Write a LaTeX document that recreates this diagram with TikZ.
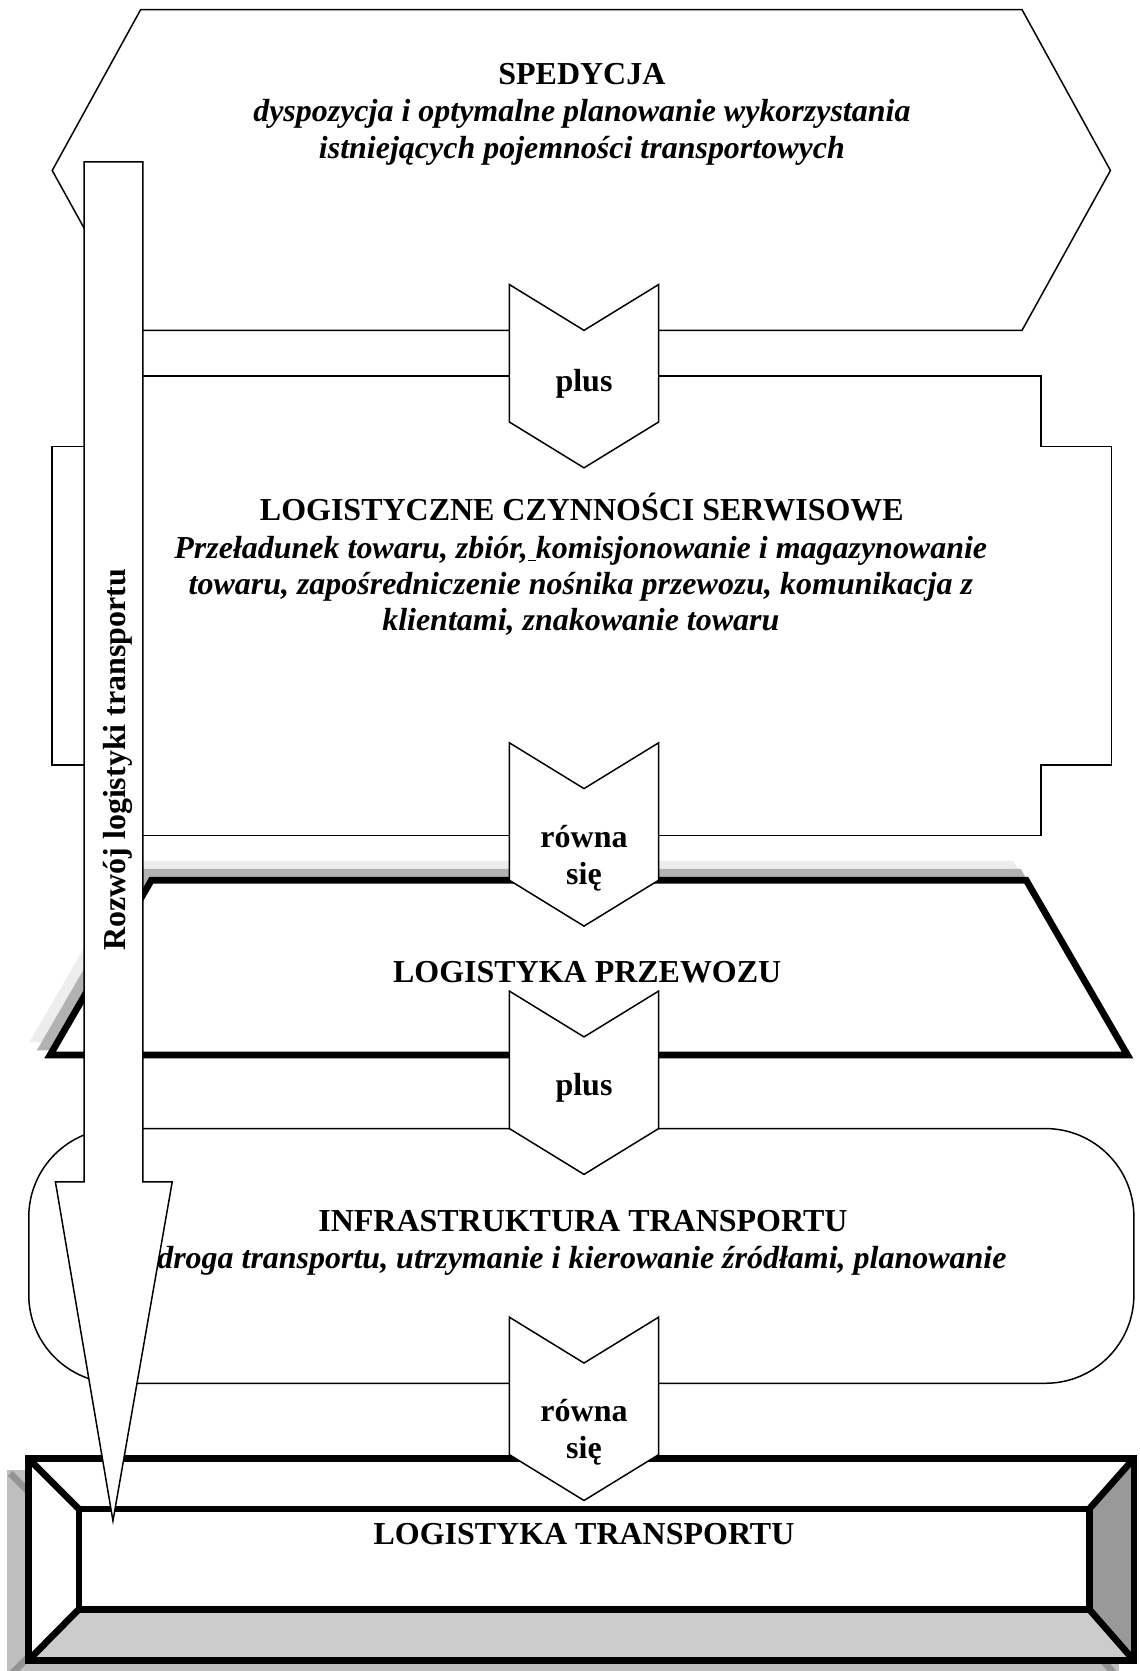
\documentclass[tikz,border=0pt]{standalone}
\usepackage{fontspec}
\setmainfont{Liberation Serif}
\begin{document}
\begin{tikzpicture}[x=1pt,y=-1pt,
  thinline/.style={line width=1.4pt, draw=black, fill=white, line join=miter},
  thickline/.style={line width=6.3pt, draw=black, line join=miter},
  txt/.style={font=\fontsize{30}{35}\selectfont\bfseries, anchor=base, inner sep=0pt},
  itxt/.style={font=\fontsize{30}{35}\selectfont\bfseries\itshape, anchor=base, inner sep=0pt}]
\useasboundingbox (0,0) rectangle (1069,1568);
\fill[white] (0,0) rectangle (1069,1568);

% SPEDYCJA hexagon
\draw[thinline] (132,9) -- (959,9) -- (1042,160) -- (959,310) -- (132,310) -- (49,160) -- cycle;

% services cross shape
\draw[thinline] (128,353) -- (977,353) -- (977,419) -- (1043,419) -- (1043,718) -- (977,718)
  -- (977,784) -- (128,784) -- (128,718) -- (49,718) -- (49,419) -- (128,419) -- cycle;

% trapezoid shadows and trapezoid
\foreach \dx/\dy/\c in {-14/-15/black!7, -7/-7.5/black!30}{
  \draw[line width=6.3pt, draw=\c, fill=\c, shift={(\dx,\dy)}]
    (142,826) -- (963,826) -- (1058,990) -- (47,990) -- cycle;
}
\draw[thickline, fill=white] (142,826) -- (963,826) -- (1058,990) -- (47,990) -- cycle;

% rounded rectangle
\draw[thinline, rounded corners=83pt] (27,1059) rectangle (1064,1298);

% bevel box shadow
\begin{scope}[shift={(-17,14)}]
  \fill[black!25] (23.8,1365.8) rectangle (1067.2,1562.2);
  \draw[line width=6.3pt, black!42] (26.6,1368.5) -- (74,1416) (26.6,1558) -- (74,1510)
    (1064,1368.5) -- (1022,1416) (1064,1558) -- (1022,1510);
\end{scope}

% bevel box
\fill[white] (26.6,1368.5) rectangle (1064,1558);
\fill[black!20] (26.6,1558) -- (74,1510) -- (1022,1510) -- (1064,1558) -- cycle;
\fill[black!40] (1064,1368.5) -- (1022,1416) -- (1022,1510) -- (1064,1558) -- cycle;
\draw[thickline] (26.6,1368.5) rectangle (1064,1558);
\draw[thickline] (74,1416) rectangle (1022,1510);
\draw[thickline] (26.6,1368.5) -- (74,1416) (26.6,1558) -- (74,1510)
  (1064,1368.5) -- (1022,1416) (1064,1558) -- (1022,1510);

% chevrons
\foreach \t in {267,697,930,1236}{
  \draw[thinline] (478,\t) -- (548,{\t+43}) -- (618,\t) -- (618,{\t+129}) -- (548,{\t+172})
    -- (478,{\t+129}) -- cycle;
}

% texts
\node[txt]  (sp1) at (546,79)  {SPEDYCJA};
\node[itxt] (sp2) at (546,114) {dyspozycja i optymalne planowanie wykorzystania};
\node[itxt] (sp3) at (546,149) {istniejących pojemności transportowych};

\node[txt]  (lc1) at (546,488) {LOGISTYCZNE CZYNNOŚCI SERWISOWE};
\node[itxt] (lc2) at (545,524) {Przeładunek towaru, zbiór,\underline{\ }komisjonowanie i magazynowanie};
\node[itxt] (lc3) at (545,558) {towaru, zapośredniczenie nośnika przewozu, komunikacja z};
\node[itxt] (lc4) at (545,592) {klientami, znakowanie towaru};

\node[txt]  (lp) at (551,922) {LOGISTYKA PRZEWOZU};
\node[txt]  (in1) at (547,1156) {INFRASTRUKTURA TRANSPORTU};
\node[itxt] (in2) at (546,1190) {droga transportu, utrzymanie i kierowanie źródłami, planowanie};
\node[txt]  (lt) at (548,1449) {LOGISTYKA TRANSPORTU};

\node[txt] (c1) at (548,367) {plus};
\node[txt] (c2a) at (548,795) {równa};
\node[txt] (c2b) at (548,830) {się};
\node[txt] (c3) at (548,1028) {plus};
\node[txt] (c4a) at (548,1334) {równa};
\node[txt] (c4b) at (548,1369) {się};

% development arrow
\draw[thinline] (79,152) -- (134,152) -- (134,1109) -- (161.6,1109) -- (106,1427)
  -- (52,1109) -- (79,1109) -- cycle;
\node[txt, rotate=90] (rozwoj) at (118,713) {Rozwój logistyki transportu};
\end{tikzpicture}
\end{document}
